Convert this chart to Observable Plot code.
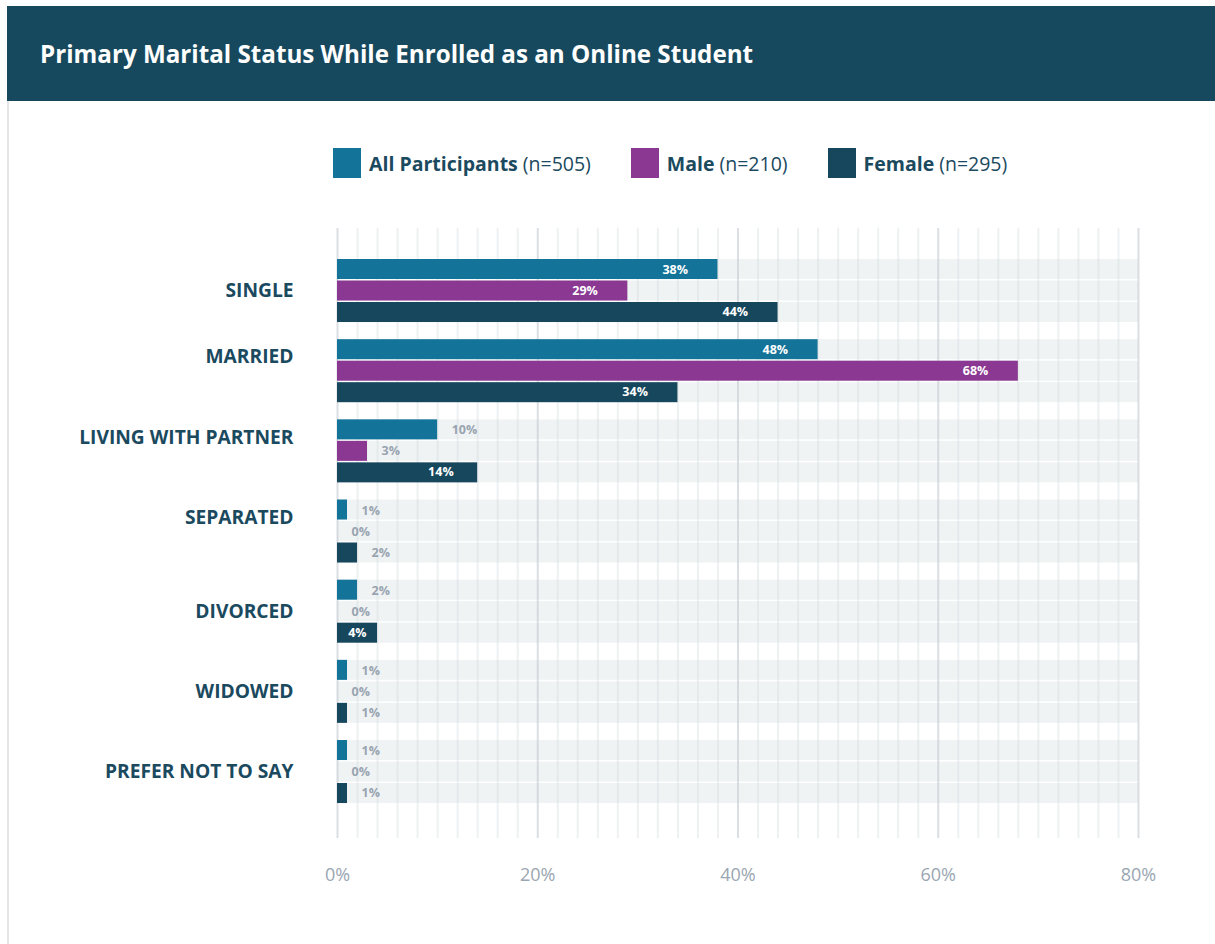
<!DOCTYPE html>
<html>
<head>
<meta charset="utf-8">
<script src="https://cdn.jsdelivr.net/npm/d3@7"></script>
<script src="https://cdn.jsdelivr.net/npm/@observablehq/plot@0.6"></script>
<style>
  html, body { margin: 0; padding: 0; background: #fff; width: 1215px; height: 944px; overflow: hidden; }
  body { position: relative; font-family: "Open Sans", sans-serif; }
  #header { position: absolute; left: 7px; top: 6px; width: 1208px; height: 95px; background: #17495e; }
  #title { position: absolute; left: 33px; top: 0; line-height: 95px; color: #fff; font-size: 24.2px; font-weight: 700; white-space: nowrap; }
  #leftborder { position: absolute; left: 7px; top: 101px; width: 2px; height: 843px; background: #e3e4e5; z-index: 5; }
  #legend { position: absolute; left: 333px; top: 148px; display: flex; align-items: center; height: 30px; color: #1b4a5f; font-size: 19.5px; white-space: nowrap; }
  .item { display: flex; align-items: center; margin-right: 40px; }
  .sw { width: 28px; height: 30px; margin-right: 8px; }
  .item b { font-weight: 700; margin-right: 5px; }
  #chart { position: absolute; left: 0; top: 210px; }
</style>
</head>
<body>
<div id="header"><div id="title">Primary Marital Status While Enrolled as an Online Student</div></div>
<div id="leftborder"></div>
<div id="legend"></div>
<div id="chart"></div>
<script>
// ---- data ----
const categories = ["SINGLE", "MARRIED", "LIVING WITH PARTNER", "SEPARATED", "DIVORCED", "WIDOWED", "PREFER NOT TO SAY"];
const seriesNames = ["All Participants", "Male", "Female"];
const seriesN = [505, 210, 295];
const seriesColors = ["#137398", "#8a3892", "#17475d"];
const allValues = [38, 48, 10, 1, 2, 1, 1];
const maleValues = [29, 68, 3, 0, 0, 0, 0];
const femaleValues = [44, 34, 14, 2, 4, 1, 1];
const xDomain = [0, 80];
const xTicks = [0, 20, 40, 60, 80];
const minorStep = 2;
// category labels that sit higher than their group in the original
const raisedLabels = ["MARRIED", "LIVING WITH PARTNER", "SEPARATED"];

// ---- legend ----
const legend = document.getElementById("legend");
seriesNames.forEach((s, i) => {
  const it = document.createElement("div");
  it.className = "item";
  it.innerHTML = `<div class="sw" style="background:${seriesColors[i]}"></div><b>${s}</b><span>(n=${seriesN[i]})</span>`;
  legend.appendChild(it);
});

// ---- rows ----
const valueArrays = [allValues, maleValues, femaleValues];
const rows = categories.flatMap((c, i) => seriesNames.map((s, j) => ({category: c, series: s, value: valueArrays[j][i]})));

// slot placement within each category band (bandwidth ~63px)
const slots = [
  {insetTop: 0, insetBottom: 43, dy: -21},
  {insetTop: 21.5, insetBottom: 21.5, dy: 0},
  {insetTop: 43, insetBottom: 0, dy: 21}
];

const gridMinor = d3.range(xDomain[0], xDomain[1] + 1, minorStep).filter(t => !xTicks.includes(t));

const marks = [];
seriesNames.forEach((s, j) => {
  const data = rows.filter(r => r.series === s);
  marks.push(Plot.barX(data, {x1: () => xDomain[0], x2: () => xDomain[1], y: "category", fill: "#f0f3f4", insetTop: slots[j].insetTop, insetBottom: slots[j].insetBottom}));
});
marks.push(Plot.ruleX(gridMinor, {stroke: "#cfd6db", strokeOpacity: 0.35, strokeWidth: 2}));
marks.push(Plot.ruleX(xTicks, {stroke: "#c3cad0", strokeOpacity: 0.6, strokeWidth: 2}));
const isInside = r => r.value >= 20 || (r.series === "Female" && r.value >= 4);
seriesNames.forEach((s, j) => {
  const data = rows.filter(r => r.series === s);
  marks.push(Plot.barX(data, {x: "value", y: "category", fill: seriesColors[j], insetTop: slots[j].insetTop, insetBottom: slots[j].insetBottom}));
  const inBig = data.filter(r => isInside(r) && r.value >= 20);
  const inMid = data.filter(r => isInside(r) && r.value < 20 && r.value >= 10);
  const inSmall = data.filter(r => isInside(r) && r.value < 10);
  const outside = data.filter(r => !isInside(r));
  const common = {x: "value", y: "category", text: d => d.value + "%", fontSize: 12.5, fontWeight: 700, dy: slots[j].dy};
  marks.push(Plot.text(inBig, {...common, fill: "#fff", textAnchor: "end", dx: -30}));
  marks.push(Plot.text(inMid, {...common, fill: "#fff", textAnchor: "end", dx: -24}));
  marks.push(Plot.text(inSmall, {...common, fill: "#fff", textAnchor: "end", dx: -11}));
  marks.push(Plot.text(outside, {...common, fill: "#98a4b0", textAnchor: "start", dx: 14}));
});
marks.push(Plot.axisX({ticks: xTicks, tickFormat: d => d + "%", tickSize: 0, tickPadding: 30, fontSize: 18, fill: "#9aa6b2", label: null}));
const yAxisStyle = {tickSize: 0, tickPadding: 44, fontSize: 19.2, fontWeight: 700, fill: "#1b4a5f", label: null};
marks.push(Plot.axisY({...yAxisStyle, ticks: categories.filter(c => !raisedLabels.includes(c))}));
marks.push(Plot.axisY({...yAxisStyle, ticks: raisedLabels, dy: -14}));

const chart = Plot.plot({
  width: 1215,
  height: 700,
  marginTop: 18,
  marginBottom: 72,
  marginLeft: 337,
  marginRight: 77,
  style: {fontFamily: "'Open Sans', sans-serif", background: "transparent", overflow: "visible"},
  x: {domain: xDomain},
  y: {domain: categories, paddingInner: 0.214, paddingOuter: 0.4115, align: 0.47, round: false},
  marks
});
document.getElementById("chart").appendChild(chart);
</script>
</body>
</html>
